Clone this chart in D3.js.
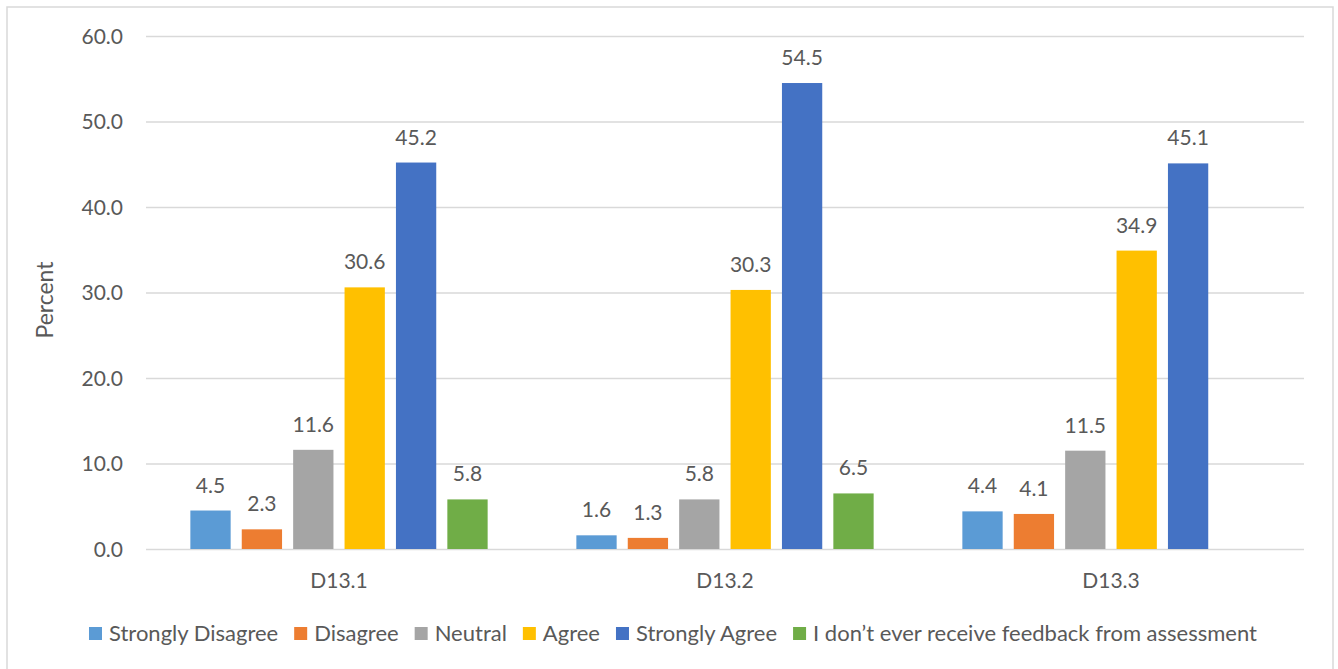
<!DOCTYPE html>
<html>
<head>
<meta charset="utf-8">
<script src="https://cdn.jsdelivr.net/npm/d3@7"></script>
<style>
  html, body { margin: 0; padding: 0; background: #ffffff; }
  svg { display: block; }
  text { font-family: Lato, "Liberation Sans", sans-serif; fill: #595959; }
</style>
</head>
<body>
<svg id="chart" width="1338" height="669"></svg>
<script>
// Survey items on the x axis
const categories = ["D13.1", "D13.2", "D13.3"];

// Response options (legend order)
const seriesNames = [
  "Strongly Disagree",
  "Disagree",
  "Neutral",
  "Agree",
  "Strongly Agree",
  "I don\u2019t ever receive feedback from assessment"
];
const seriesColors = ["#5B9BD5", "#ED7D31", "#A5A5A5", "#FFC000", "#4472C4", "#70AD47"];

// Percent per response option, one array per item (null = no value)
const valuesD131 = [4.5, 2.3, 11.6, 30.6, 45.2, 5.8];
const valuesD132 = [1.6, 1.3, 5.8, 30.3, 54.5, 6.5];
const valuesD133 = [4.4, 4.1, 11.5, 34.9, 45.1, null];

const yTicks = [0, 10, 20, 30, 40, 50, 60];
const yTitle = "Percent";

const rows = [valuesD131, valuesD132, valuesD133].map((vals, i) => ({
  category: categories[i],
  values: vals.map((v, j) => ({ series: seriesNames[j], color: seriesColors[j], value: v }))
}));

const svg = d3.select("#chart");
const W = 1338, H = 669;

// Outer chart frame
svg.append("rect")
  .attr("x", 7).attr("y", 7)
  .attr("width", 1326).attr("height", 680)
  .attr("fill", "#ffffff")
  .attr("stroke", "#D9D9D9").attr("stroke-width", 1.5);

const plot = { left: 146, right: 1304, top: 36, bottom: 549 };

const x0 = d3.scaleBand()
  .domain(categories)
  .range([plot.left, plot.right])
  .padding(0);

const x1 = d3.scaleBand()
  .domain(seriesNames)
  .range([0, x0.bandwidth()])
  .paddingInner(0.216)
  .paddingOuter(0.863);

const y = d3.scaleLinear()
  .domain([0, 60])
  .range([plot.bottom, plot.top]);

// Horizontal gridlines + y tick labels
const yAxis = d3.axisLeft(y)
  .tickValues(yTicks)
  .tickSize(-(plot.right - plot.left))
  .tickPadding(23)
  .tickFormat(d3.format(".1f"));

const gy = svg.append("g")
  .attr("transform", `translate(${plot.left},0)`)
  .call(yAxis);
gy.select(".domain").remove();
gy.selectAll(".tick line").attr("stroke", "#D9D9D9").attr("stroke-width", 1.3);
gy.selectAll(".tick text")
  .attr("fill", "#595959")
  .style("font-size", "21px")
  .attr("dy", "0.35em");

// Category axis labels
const xAxis = d3.axisBottom(x0).tickSize(0).tickPadding(0);
const gx = svg.append("g")
  .attr("transform", `translate(0,${plot.bottom})`)
  .call(xAxis);
gx.select(".domain").remove();
gx.selectAll(".tick text")
  .attr("fill", "#595959")
  .style("font-size", "21px")
  .attr("y", 39)
  .attr("dy", 0);

// Bars
const groups = svg.append("g").selectAll("g")
  .data(rows)
  .join("g")
  .attr("transform", d => `translate(${x0(d.category)},0)`);

const present = d => d.values.filter(v => v.value != null);

groups.selectAll("rect")
  .data(present)
  .join("rect")
  .attr("x", d => x1(d.series))
  .attr("y", d => y(d.value))
  .attr("width", x1.bandwidth())
  .attr("height", d => y(0) - y(d.value))
  .attr("fill", d => d.color);

// Value labels above bars
groups.selectAll("text.val")
  .data(present)
  .join("text")
  .attr("class", "val")
  .attr("x", d => x1(d.series) + x1.bandwidth() / 2)
  .attr("y", d => y(d.value) - 18)
  .attr("text-anchor", "middle")
  .style("font-size", "21px")
  .text(d => d3.format(".1f")(d.value));

// Y axis title
svg.append("text")
  .attr("transform", `translate(53,300) rotate(-90)`)
  .attr("text-anchor", "middle")
  .style("font-size", "23px")
  .text(yTitle);

// Legend, laid out left to right then centred under the chart
const legend = svg.append("g");
let lx = 0;
seriesNames.forEach((name, i) => {
  const item = legend.append("g").attr("transform", `translate(${lx},0)`);
  item.append("rect")
    .attr("x", 0).attr("y", 627)
    .attr("width", 13).attr("height", 13)
    .attr("fill", seriesColors[i]);
  const t = item.append("text")
    .attr("x", 20).attr("y", 641)
    .style("font-size", "22px")
    .text(name);
  const w = t.node().getComputedTextLength();
  lx += 20 + w + (i < seriesNames.length - 1 ? 16 : 0);
});
legend.attr("transform", `translate(${673 - lx / 2},0)`);
</script>
</body>
</html>
